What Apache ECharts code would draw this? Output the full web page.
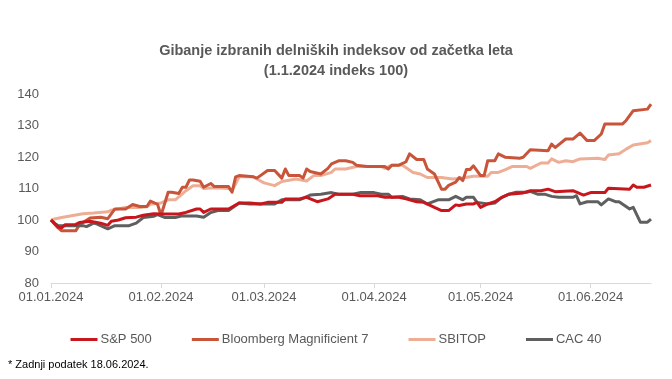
<!DOCTYPE html>
<html>
<head>
<meta charset="utf-8">
<script src="https://cdn.jsdelivr.net/npm/echarts@6/dist/echarts.min.js"></script>
<style>
html,body{margin:0;padding:0;background:#fff;}
#c{width:672px;height:379px;}
</style>
</head>
<body>
<div id="c"></div>
<script>
// Axis range (calendar days) and tick labels
const startDate = '2024-01-01';
const endDate = '2024-06-18';
const yTicks = [80, 90, 100, 110, 120, 130, 140];
const seriesNames = ['S&P 500', 'Bloomberg Magnificient 7', 'SBITOP', 'CAC 40'];

// Values: [day.month, index]
const sp500 = [
['01.01',100],['03.01',97.8],['04.01',97.5],['05.01',98.5],['08.01',98.6],['09.01',99.2],['12.01',99.6],
['15.01',99.0],['17.01',98.3],['18.01',99.6],['20.01',100.0],['22.01',100.7],['25.01',100.9],['27.01',101.5],
['30.01',102.0],['01.02',101.9],['06.02',101.9],['08.02',102.4],['11.02',103.5],['12.02',103.5],['13.02',102.4],
['15.02',103.5],['20.02',103.5],['23.02',105.4],['26.02',105.4],['29.02',105.1],['02.03',105.6],['06.03',105.6],
['07.03',106.7],['11.03',106.7],['13.03',107.2],['16.03',105.8],['19.03',106.7],['21.03',108.2],['26.03',108.2],
['28.03',107.7],['02.04',107.7],['04.04',107.2],['08.04',107.2],['10.04',106.7],['13.04',105.8],['15.04',105.6],
['18.04',104.0],['20.04',103.0],['22.04',103.0],['24.04',104.8],['25.04',104.6],['27.04',105.1],['29.04',105.1],
['30.04',105.6],['01.05',104.0],['03.05',105.1],['05.05',105.8],['07.05',107.2],['09.05',108.2],['13.05',108.6],
['15.05',109.3],['18.05',109.3],['20.05',109.8],['22.05',109.0],['27.05',109.3],['30.05',107.9],['01.06',108.7],
['05.06',108.7],['06.06',110.1],['12.06',109.8],['13.06',111.1],['14.06',110.4],['16.06',110.4],['18.06',111.1]
];
const mag7 = [
['01.01',100],['03.01',97.5],['04.01',96.6],['08.01',96.6],['09.01',98.5],['12.01',100.6],['15.01',100.9],
['17.01',100.4],['19.01',103.5],['22.01',103.5],['24.01',104.9],['26.01',104.3],['28.01',104.3],['29.01',106.0],
['31.01',105.0],['01.02',101.5],['03.02',108.8],['04.02',108.8],['06.02',108.4],['07.02',110.4],['08.02',110.4],
['09.02',112.7],['10.02',112.7],['12.02',112.3],['13.02',110.4],['15.02',111.6],['16.02',110.6],['20.02',110.6],
['21.02',108.8],['22.02',113.7],['23.02',114.1],['27.02',113.7],['28.02',113.3],['02.03',115.7],['04.03',115.7],
['06.03',113.3],['07.03',116.2],['08.03',114.1],['11.03',114.1],['12.03',113.3],['13.03',116.2],['14.03',115.4],
['17.03',114.6],['19.03',116.4],['20.03',117.8],['22.03',118.8],['24.03',118.8],['26.03',118.3],['27.03',117.4],
['30.03',117.0],['04.04',117.0],['05.04',116.2],['06.04',117.4],['08.04',117.4],['10.04',118.5],['11.04',121.0],
['13.04',119.2],['15.04',119.2],['16.04',116.2],['18.04',114.6],['20.04',109.8],['21.04',109.8],['22.04',111.0],
['24.04',112.0],['25.04',113.5],['26.04',112.5],['27.04',116.0],['28.04',116.0],['29.04',117.2],['01.05',114.1],
['02.05',114.1],['03.05',118.8],['05.05',118.8],['06.05',121.0],['08.05',119.9],['12.05',119.6],['13.05',119.9],
['15.05',122.3],['20.05',122.0],['21.05',124.1],['22.05',123.0],['25.05',125.7],['27.05',125.7],['29.05',127.6],
['31.05',125.2],['02.06',125.2],['04.06',127.3],['05.06',130.5],['10.06',130.5],['11.06',131.6],['13.06',134.7],
['17.06',135.2],['18.06',136.8]
];
const sbitop = [
['01.01',100],['02.01',100.3],['04.01',100.8],['06.01',101.2],['10.01',102.0],['13.01',102.2],['17.01',102.6],
['18.01',103.1],['22.01',104.0],['26.01',104.0],['28.01',104.2],['29.01',105.0],['01.02',105.4],['03.02',106.4],
['05.02',106.4],['07.02',108.3],['08.02',109.3],['10.02',110.9],['12.02',110.9],['13.02',110.0],['16.02',110.2],
['20.02',110.0],['21.02',109.3],['23.02',113.7],['27.02',113.7],['28.02',113.0],['01.03',111.8],['04.03',110.9],
['06.03',112.2],['10.03',113.0],['13.03',112.4],['15.03',114.1],['17.03',114.1],['20.03',115.1],['21.03',116.2],
['24.03',116.2],['27.03',117.0],['03.04',117.0],['04.04',116.4],['06.04',117.4],['09.04',117.4],['12.04',115.1],
['14.04',114.6],['16.04',113.5],['20.04',113.5],['23.04',113.0],['25.04',113.2],['29.04',113.9],['03.05',113.9],
['04.05',115.1],['06.05',115.1],['08.05',116.0],['10.05',117.0],['14.05',117.0],['15.05',116.4],['18.05',118.1],
['20.05',118.1],['21.05',119.4],['23.05',118.3],['25.05',118.8],['27.05',118.5],['29.05',119.4],['03.06',119.6],
['05.06',119.2],['06.06',120.6],['09.06',121.0],['11.06',122.5],['13.06',123.8],['17.06',124.5],['18.06',125.2]
];
const cac40 = [
['01.01',100],['02.01',99.0],['03.01',98.2],['10.01',98.2],['11.01',97.9],['13.01',99.0],['14.01',98.7],
['17.01',97.2],['19.01',98.2],['23.01',98.2],['25.01',99.0],['27.01',100.8],['30.01',101.2],['31.01',101.7],
['02.02',100.8],['05.02',100.8],['07.02',101.3],['11.02',101.3],['13.02',100.9],['15.02',102.4],['17.02',103.0],
['20.02',103.0],['23.02',105.4],['26.02',105.1],['04.03',105.1],['06.03',106.4],['11.03',106.4],['14.03',107.9],
['17.03',108.2],['20.03',108.7],['22.03',108.2],['26.03',108.2],['28.03',108.7],['01.04',108.7],['03.04',108.2],
['05.04',108.2],['06.04',107.2],['09.04',107.5],['11.04',106.7],['14.04',106.4],['16.04',105.1],['19.04',106.4],
['22.04',106.4],['24.04',107.5],['26.04',106.4],['27.04',107.2],['29.04',107.2],['30.04',105.6],['03.05',105.1],
['05.05',105.4],['07.05',107.2],['09.05',108.2],['11.05',108.8],['14.05',108.8],['15.05',109.1],['17.05',108.2],
['19.05',108.2],['21.05',107.5],['23.05',107.2],['27.05',107.2],['28.05',107.7],['29.05',105.1],['31.05',105.8],
['03.06',105.8],['04.06',104.8],['06.06',106.7],['08.06',105.8],['09.06',105.8],['12.06',103.5],['13.06',104.0],
['15.06',99.3],['17.06',99.3],['18.06',100.3]
];
const colors = ['#c8161d', '#c8553a', '#edae95', '#5f5f5f'];

// Build calendar-day categories
const categories = [];
(function(){
  const d = new Date(startDate + 'T00:00:00Z');
  const e = new Date(endDate + 'T00:00:00Z');
  while (d <= e) {
    const dd = String(d.getUTCDate()).padStart(2,'0');
    const mm = String(d.getUTCMonth()+1).padStart(2,'0');
    categories.push(dd + '.' + mm + '.' + d.getUTCFullYear());
    d.setUTCDate(d.getUTCDate()+1);
  }
})();
const catIndex = {};
categories.forEach((c,i)=>{ catIndex[c.slice(0,5)] = i; });
function toSeries(pairs){
  const arr = new Array(categories.length).fill(null);
  pairs.forEach(p => { arr[catIndex[p[0]]] = p[1]; });
  return arr;
}
const allData = [sp500, mag7, sbitop, cac40];
const isMonthStart = (idx, val) => val.slice(0,2) === '01';

const chart = echarts.init(document.getElementById('c'), null, {renderer:'canvas'});
chart.setOption({
  animation: false,
  backgroundColor: '#ffffff',
  textStyle: {fontFamily: 'Liberation Sans, Arial, sans-serif'},
  title: {
    text: 'Gibanje izbranih delniških indeksov od začetka leta\n(1.1.2024 indeks 100)',
    left: 'center',
    top: 41,
    padding: 0,
    textStyle: {fontSize: 14.5, fontWeight: 'bold', color: '#595959', lineHeight: 20, fontFamily: 'Liberation Sans, Arial, sans-serif'}
  },
  graphic: [
    {type:'text', left:8, top:359, style:{text:'* Zadnji podatek 18.06.2024.', font:'11px "Liberation Sans", Arial, sans-serif', fill:'#000000'}}
  ],
  legend: {
    data: seriesNames,
    left: 'center',
    top: 328,
    icon: 'rect',
    itemWidth: 27,
    itemHeight: 3,
    itemGap: 40,
    textStyle: {fontSize: 13, color: '#595959', fontFamily: 'Liberation Sans, Arial, sans-serif', padding:[0,0,0,-2]}
  },
  grid: {left: 51, right: 21, top: 94, bottom: 96, containLabel: false},
  xAxis: {
    type: 'category',
    data: categories,
    boundaryGap: false,
    axisLine: {lineStyle: {color: '#d9d9d9', width: 1}},
    axisTick: {show: true, interval: isMonthStart, length: 5, lineStyle: {color: '#d9d9d9'}},
    axisLabel: {interval: isMonthStart, color: '#595959', fontSize: 13, margin: 8, fontFamily: 'Liberation Sans, Arial, sans-serif'},
    splitLine: {show: false}
  },
  yAxis: {
    type: 'value',
    min: yTicks[0],
    max: yTicks[yTicks.length-1],
    interval: 10,
    axisLine: {show: false},
    axisTick: {show: false},
    splitLine: {show: false},
    axisLabel: {color: '#595959', fontSize: 13, margin: 12, fontFamily: 'Liberation Sans, Arial, sans-serif'}
  },
  series: seriesNames.map((n,i)=>({
    name: n,
    type: 'line',
    data: toSeries(allData[i]),
    connectNulls: true,
    symbol: 'none',
    color: colors[i],
    lineStyle: {width: 3, color: colors[i], join: 'round'},
    z: [4,2,1,3][i]
  }))
});
</script>
</body>
</html>
